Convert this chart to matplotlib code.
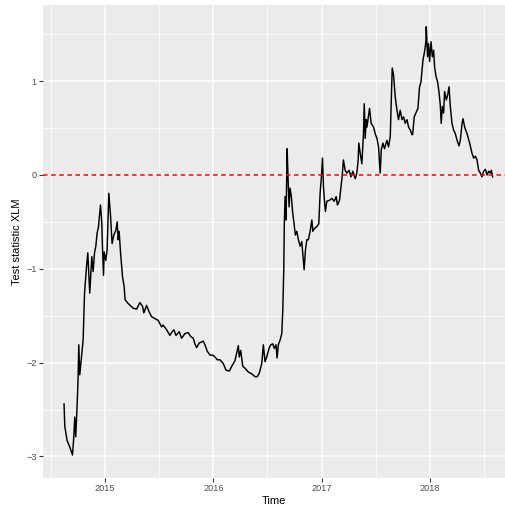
import matplotlib
matplotlib.use("Agg")
import matplotlib.pyplot as plt

plt.rcParams['font.family'] = ['Liberation Sans', 'DejaVu Sans']

# tiempo en años decimales y estadístico
tiempo = [
    2014.624, 2014.631, 2014.652, 2014.677, 2014.702, 2014.714, 2014.723, 2014.732, 2014.744, 2014.753,
    2014.760, 2014.769, 2014.788, 2014.800, 2014.813, 2014.831, 2014.843, 2014.861, 2014.880, 2014.892,
    2014.905, 2014.917, 2014.929, 2014.942, 2014.947, 2014.960, 2014.972, 2014.979, 2014.988, 2014.994,
    2015.009, 2015.021, 2015.037, 2015.053, 2015.067, 2015.083, 2015.102, 2015.114, 2015.123, 2015.132,
    2015.145, 2015.163, 2015.178, 2015.187, 2015.215, 2015.261, 2015.293, 2015.323, 2015.348, 2015.360,
    2015.385, 2015.409, 2015.431, 2015.462, 2015.492, 2015.524, 2015.538, 2015.570, 2015.600, 2015.621,
    2015.637, 2015.656, 2015.686, 2015.708, 2015.739, 2015.769, 2015.791, 2015.815, 2015.831, 2015.847,
    2015.871, 2015.893, 2015.908, 2015.923, 2015.945, 2015.970, 2015.995, 2016.016, 2016.037, 2016.062,
    2016.092, 2016.117, 2016.148, 2016.170, 2016.185, 2016.200, 2016.216, 2016.231, 2016.240, 2016.253,
    2016.272, 2016.293, 2016.323, 2016.355, 2016.385, 2016.406, 2016.425, 2016.447, 2016.462, 2016.477,
    2016.493, 2016.514, 2016.530, 2016.549, 2016.563, 2016.579, 2016.588, 2016.600, 2016.616, 2016.632,
    2016.641, 2016.646, 2016.650, 2016.655, 2016.662, 2016.671, 2016.681, 2016.690, 2016.699, 2016.708,
    2016.720, 2016.733, 2016.745, 2016.757, 2016.770, 2016.785, 2016.801, 2016.816, 2016.828, 2016.838,
    2016.850, 2016.863, 2016.877, 2016.893, 2016.909, 2016.918, 2016.933, 2016.955, 2016.973, 2016.985,
    2016.997, 2017.007, 2017.016, 2017.025, 2017.034, 2017.047, 2017.071, 2017.093, 2017.115, 2017.133,
    2017.145, 2017.164, 2017.176, 2017.188, 2017.200, 2017.216, 2017.232, 2017.253, 2017.269, 2017.287,
    2017.309, 2017.324, 2017.336, 2017.342, 2017.355, 2017.370, 2017.385, 2017.392, 2017.401, 2017.410,
    2017.417, 2017.441, 2017.456, 2017.478, 2017.493, 2017.509, 2017.524, 2017.539, 2017.549, 2017.564,
    2017.579, 2017.601, 2017.616, 2017.632, 2017.641, 2017.650, 2017.662, 2017.678, 2017.694, 2017.708,
    2017.724, 2017.740, 2017.755, 2017.770, 2017.786, 2017.801, 2017.816, 2017.832, 2017.838, 2017.853,
    2017.872, 2017.887, 2017.902, 2017.915, 2017.934, 2017.946, 2017.955, 2017.961, 2017.964, 2017.976,
    2017.985, 2017.995, 2018.008, 2018.020, 2018.032, 2018.041, 2018.054, 2018.069, 2018.081, 2018.093,
    2018.102, 2018.112, 2018.124, 2018.133, 2018.149, 2018.161, 2018.174, 2018.186, 2018.201, 2018.216,
    2018.232, 2018.248, 2018.266, 2018.278, 2018.294, 2018.303, 2018.318, 2018.340, 2018.364, 2018.386,
    2018.401, 2018.417, 2018.432, 2018.447, 2018.463, 2018.478, 2018.493, 2018.509, 2018.525, 2018.539,
    2018.555, 2018.564, 2018.576,
]
estadistico = [
    -2.44, -2.68, -2.83, -2.90, -2.985, -2.79, -2.58, -2.79, -2.47, -2.19,
    -1.81, -2.13, -1.90, -1.76, -1.26, -0.98, -0.83, -1.26, -0.87, -1.03,
    -0.83, -0.76, -0.62, -0.55, -0.48, -0.32, -0.51, -0.80, -1.07, -0.82,
    -0.91, -0.80, -0.195, -0.44, -0.73, -0.64, -0.59, -0.50, -0.69, -0.60,
    -0.83, -1.08, -1.19, -1.33, -1.37, -1.42, -1.43, -1.36, -1.40, -1.47,
    -1.39, -1.46, -1.51, -1.53, -1.55, -1.62, -1.60, -1.65, -1.71, -1.67,
    -1.65, -1.71, -1.67, -1.74, -1.69, -1.68, -1.72, -1.74, -1.80, -1.84,
    -1.79, -1.78, -1.77, -1.81, -1.88, -1.92, -1.92, -1.94, -1.97, -1.97,
    -2.01, -2.08, -2.09, -2.04, -2.01, -1.98, -1.90, -1.82, -1.94, -1.87,
    -2.04, -2.06, -2.10, -2.12, -2.15, -2.15, -2.11, -2.01, -1.81, -1.99,
    -1.94, -1.85, -1.81, -1.80, -1.85, -1.81, -1.95, -1.81, -1.76, -1.69,
    -1.44, -1.21, -1.01, -0.52, -0.23, -0.48, 0.28, -0.05, -0.34, -0.14,
    -0.23, -0.41, -0.52, -0.64, -0.60, -0.69, -0.76, -0.71, -0.87, -1.01,
    -0.80, -0.69, -0.69, -0.60, -0.48, -0.60, -0.57, -0.55, -0.52, -0.20,
    -0.02, 0.18, -0.12, -0.27, -0.39, -0.28, -0.27, -0.25, -0.28, -0.23,
    -0.32, -0.27, -0.15, -0.02, 0.16, 0.05, 0.02, 0.05, -0.02, 0.04,
    -0.04, 0.02, 0.16, 0.34, 0.23, 0.12, 0.44, 0.76, 0.39, 0.59,
    0.51, 0.71, 0.55, 0.51, 0.44, 0.39, 0.30, 0.02, 0.27, 0.34,
    0.28, 0.37, 0.30, 0.41, 0.76, 1.14, 1.07, 0.83, 0.69, 0.59,
    0.69, 0.59, 0.62, 0.55, 0.59, 0.51, 0.48, 0.43, 0.43, 0.62,
    0.67, 0.71, 0.94, 0.99, 1.23, 1.30, 1.37, 1.44, 1.58, 1.26,
    1.40, 1.21, 1.42, 1.26, 1.33, 1.15, 1.05, 0.99, 0.89, 0.75,
    0.55, 0.73, 0.66, 0.89, 0.80, 0.85, 0.94, 0.73, 0.55, 0.48,
    0.44, 0.37, 0.31, 0.37, 0.55, 0.60, 0.51, 0.44, 0.34, 0.23,
    0.18, 0.20, 0.16, 0.05, 0.02, -0.02, 0.04, 0.06, 0.00, 0.04,
    0.02, 0.05, -0.02,
]

anios = [2015, 2016, 2017, 2018]
etiquetas_x = ["2015", "2016", "2017", "2018"]
ticks_y = [-3, -2, -1, 0, 1]
etiquetas_y = ["\u22123", "\u22122", "\u22121", "0", "1"]

fig = plt.figure(figsize=(5.05, 5.09), dpi=100)
ax = fig.add_axes([43 / 505, 1 - 478 / 509, 1 - 43 / 505, (478 - 5) / 509])

# fondo estilo ggplot
ax.set_facecolor("#EBEBEB")
for s in ax.spines.values():
    s.set_visible(False)

ax.set_xlim(2014.43, 2018.69)
ax.set_ylim(-3.23, 1.812)

ax.set_xticks(anios)
ax.set_xticklabels(etiquetas_x)
ax.set_yticks(ticks_y)
ax.set_yticklabels(etiquetas_y)
ax.set_xticks([2014.5, 2015.5, 2016.5, 2017.5, 2018.5], minor=True)
ax.set_yticks([-2.5, -1.5, -0.5, 0.5, 1.5], minor=True)

ax.grid(which="major", color="white", linewidth=1.1)
ax.grid(which="minor", color="white", linewidth=0.55)
ax.set_axisbelow(True)

ax.tick_params(which="major", length=3, width=0.8, color="#333333",
               labelsize=6.6, labelcolor="#4D4D4D", pad=1.5)
ax.tick_params(which="minor", length=0)

ax.plot(tiempo, estadistico, color="black", linewidth=1.05)
ax.axhline(0, color="red", linestyle=(0, (3, 2.3)), linewidth=1.1)

ax.set_xlabel("Time", fontsize=8, labelpad=2)
ax.set_ylabel("Test statistic XLM", fontsize=8, labelpad=3)

fig.savefig("out.png", dpi=100)
